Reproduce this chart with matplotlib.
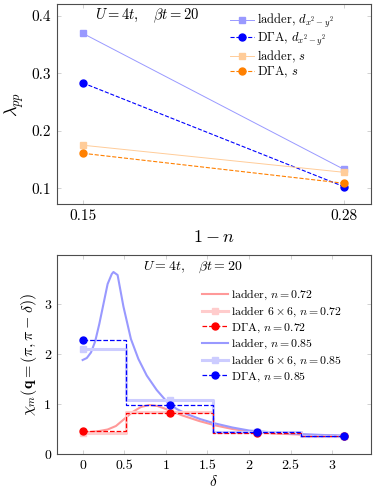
import numpy as np
import matplotlib
matplotlib.use("Agg")
import matplotlib.pyplot as plt

plt.rcParams['font.family'] = 'serif'
plt.rcParams['font.serif'] = ['cmr10']
plt.rcParams['mathtext.fontset'] = 'cm'
plt.rcParams['axes.unicode_minus'] = False
plt.rcParams['axes.formatter.use_mathtext'] = True

# top panel: leading eigenvalue vs doping
doping = [0.15, 0.28]
lam_ladder_d = [0.369, 0.133]
lam_dga_d = [0.283, 0.103]
lam_ladder_s = [0.175, 0.128]
lam_dga_s = [0.161, 0.109]

# bottom panel: magnetic susceptibility along (pi, pi - delta)
delta_k = [0.0, 1.047, 2.094, 3.142]
chi6_085 = [2.10, 1.08, 0.45, 0.37]
chidga_085 = [2.29, 0.99, 0.44, 0.36]
chi6_072 = [0.43, 0.84, 0.44, 0.37]
chidga_072 = [0.47, 0.82, 0.43, 0.36]

delta_085 = [0.0, 0.05, 0.1, 0.15, 0.2, 0.25, 0.3, 0.35, 0.37, 0.42, 0.49, 0.58,
             0.67, 0.77, 0.89, 1.01, 1.13, 1.25, 1.41, 1.57, 1.8, 2.0, 2.3, 2.6,
             2.9, 3.14]
chi_085 = [1.88, 1.92, 2.03, 2.25, 2.6, 3.0, 3.4, 3.6, 3.64, 3.58, 2.95, 2.3,
           1.9, 1.57, 1.28, 1.05, 0.9, 0.8, 0.7, 0.62, 0.53, 0.47, 0.43, 0.40,
           0.38, 0.37]
delta_072 = [0.0, 0.1, 0.2, 0.3, 0.4, 0.5, 0.6, 0.7, 0.8, 0.9, 1.0, 1.2, 1.4,
             1.6, 1.8, 2.0, 2.3, 2.6, 2.9, 3.14]
chi_072 = [0.43, 0.44, 0.46, 0.49, 0.56, 0.70, 0.84, 0.94, 0.98, 0.96, 0.90,
           0.77, 0.66, 0.57, 0.50, 0.45, 0.41, 0.39, 0.37, 0.36]

blue = '#0000ff'
blue40 = '#9999ff'
blue20 = '#ccccff'
red = '#ff0000'
red40 = '#ff9999'
red20 = '#ffcccc'
orange = '#ff8000'
orange40 = '#ffcc99'

fig = plt.figure(figsize=(3.74, 4.97), dpi=100)
ax1 = fig.add_axes([0.152, 0.5895, 0.84, 0.4024])
ax2 = fig.add_axes([0.152, 0.0865, 0.84, 0.4004])


def style(ax, fs):
    for s in ax.spines.values():
        s.set_color('0.3')
        s.set_linewidth(0.8)
    ax.tick_params(direction='in', top=True, right=True, length=3,
                   width=0.5, color='0.75', labelsize=fs, pad=4)


# ---- top
ax1.plot(doping, lam_ladder_d, '-', color=blue40, lw=0.7, marker='s', ms=5,
         label=r'ladder, $d_{x^2-y^2}$')
ax1.plot(doping, lam_dga_d, '--', color=blue, lw=0.8, marker='o', ms=5,
         label=r'D$\Gamma$A, $d_{x^2-y^2}$')
ax1.plot(doping, lam_ladder_s, '-', color=orange40, lw=0.7, marker='s', ms=5,
         label=r'ladder, $s$')
ax1.plot(doping, lam_dga_s, '--', color=orange, lw=0.8, marker='o', ms=5,
         label=r'D$\Gamma$A, $s$')
ax1.set_xlim(0.137, 0.2934)
ax1.set_ylim(0.073, 0.42)
ax1.set_xticks(doping)
ax1.set_xticklabels(['0.15', '0.28'])
ax1.set_yticks([0.1, 0.2, 0.3, 0.4])
ax1.set_yticklabels(['0.1', '0.2', '0.3', '0.4'])
style(ax1, 11)
ax1.set_xlabel(r'$1-n$', fontsize=13, labelpad=4)
ax1.set_ylabel(r'$\lambda_{pp}$', fontsize=13, labelpad=4)
ax1.text(0.12, 0.94, r'$U=4t,\quad\beta t=20$', transform=ax1.transAxes,
         fontsize=10.5, va='center')
ax1.legend(loc='upper left', bbox_to_anchor=(0.551, 0.96), frameon=False,
           fontsize=9, handlelength=1.9, handletextpad=0.25,
           labelspacing=0.05, borderaxespad=0, borderpad=0)

# ---- bottom
h1, = ax2.plot(delta_072, chi_072, '-', color=red40, lw=1.5,
               label=r'ladder, $n=0.72$')
h4, = ax2.plot(delta_085, chi_085, '-', color=blue40, lw=1.5,
               label=r'ladder, $n=0.85$')
h2, = ax2.step(delta_k, chi6_072, where='mid', color=red20, lw=2.2,
               marker='s', ms=5, label=r'ladder $6\times6$, $n=0.72$')
h5, = ax2.step(delta_k, chi6_085, where='mid', color=blue20, lw=2.2,
               marker='s', ms=5, label=r'ladder $6\times6$, $n=0.85$')
h3, = ax2.step(delta_k, chidga_072, where='mid', color=red, lw=0.9,
               ls='--', marker='o', ms=5, label=r'D$\Gamma$A, $n=0.72$')
h6, = ax2.step(delta_k, chidga_085, where='mid', color=blue, lw=0.9,
               ls='--', marker='o', ms=5, label=r'D$\Gamma$A, $n=0.85$')
ax2.set_xlim(-0.31, 3.465)
ax2.set_ylim(0, 3.98)
ax2.set_xticks([0, 0.5, 1, 1.5, 2, 2.5, 3])
ax2.set_xticklabels(['0', '0.5', '1', '1.5', '2', '2.5', '3'])
ax2.set_yticks([0, 1, 2, 3])
ax2.set_yticklabels(['0', '1', '2', '3'])
style(ax2, 10)
ax2.set_xlabel(r'$\delta$', fontsize=11, labelpad=2)
ax2.set_ylabel(r'$\chi_m(\mathbf{q}=(\pi,\pi-\delta))$', fontsize=11.5,
               labelpad=4)
ax2.text(0.275, 0.936, r'$U=4t,\quad\beta t=20$', transform=ax2.transAxes,
         fontsize=10, va='center')
ax2.legend(handles=[h1, h2, h3, h4, h5, h6], loc='upper left',
           bbox_to_anchor=(0.461, 0.835), frameon=False, fontsize=8.5,
           handlelength=2.2, handletextpad=0.3, labelspacing=0.2,
           borderaxespad=0, borderpad=0)

fig.savefig('out.png', dpi=100)
